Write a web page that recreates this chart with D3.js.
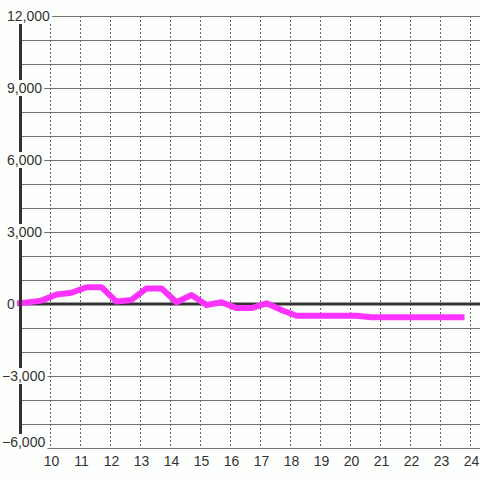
<!DOCTYPE html>
<html>
<head>
<meta charset="utf-8">
<script src="https://cdn.jsdelivr.net/npm/d3@7"></script>
<style>
  body { margin: 0; background: #fdfffd; }
  text { font-family: "Liberation Sans", Arial, sans-serif; font-size: 14px; fill: #333; }
</style>
</head>
<body>
<script>
// hour of day for each reading
var hours = [8.7, 9.2, 9.7, 10.2, 10.7, 11.2, 11.7, 12.2, 12.7, 13.2, 13.7, 14.2, 14.7, 15.2, 15.7,
             16.2, 16.7, 17.2, 17.7, 18.2, 18.7, 19.2, 19.7, 20.2, 20.7, 21.2, 21.7, 22.2, 22.7, 23.2, 23.7];
var values = [0, 60, 140, 400, 470, 700, 700, 100, 170, 650, 650, 70, 375, -40, 70,
              -170, -170, 30, -250, -490, -490, -490, -490, -490, -550, -550, -550, -550, -550, -550, -550];
var xTicks = [10, 11, 12, 13, 14, 15, 16, 17, 18, 19, 20, 21, 22, 23, 24];
var yTicks = [-6000, -3000, 0, 3000, 6000, 9000, 12000];

var width = 480, height = 480;
var svg = d3.select("body").append("svg")
    .attr("width", width)
    .attr("height", height);

var x = d3.scaleLinear().domain([9, 24]).range([20.5, 470.5]);
var y = d3.scaleLinear().domain([-6000, 12000]).range([448, 16]);

// horizontal grid, every 1000
svg.append("g").selectAll("line")
    .data(y.ticks(18))
    .enter().append("line")
    .attr("x1", 20).attr("x2", width)
    .attr("y1", function(d) { return Math.round(y(d)) + 0.5; })
    .attr("y2", function(d) { return Math.round(y(d)) + 0.5; })
    .attr("stroke", "#707070")
    .attr("stroke-width", 1.2);

// vertical dotted grid
svg.append("g").selectAll("line")
    .data(xTicks)
    .enter().append("line")
    .attr("x1", function(d) { return x(d); })
    .attr("x2", function(d) { return x(d); })
    .attr("y1", y(12000)).attr("y2", y(-6000))
    .attr("stroke", "#666")
    .attr("stroke-dasharray", "2,2");

// zero line
svg.append("line")
    .attr("x1", 20).attr("x2", width)
    .attr("y1", y(0)).attr("y2", y(0))
    .attr("stroke", "#333")
    .attr("stroke-width", 3);

// data line
var line = d3.line()
    .x(function(d, i) { return x(hours[i]); })
    .y(function(d) { return y(d); });

svg.append("path")
    .datum(values)
    .attr("d", line)
    .attr("fill", "none")
    .attr("stroke", "#ff33ff")
    .attr("stroke-width", 6)
    .attr("stroke-linejoin", "round")
    .attr("stroke-linecap", "square");

// left axis
svg.append("line")
    .attr("x1", 20.5).attr("x2", 20.5)
    .attr("y1", y(12000)).attr("y2", y(-6000))
    .attr("stroke", "#333")
    .attr("stroke-width", 3);

// y labels with white boxes
var fmt = d3.format(",");
var yl = svg.append("g").selectAll("g")
    .data(yTicks)
    .enter().append("g")
    .attr("transform", function(d) { return "translate(0," + Math.min(y(d), 442) + ")"; });

yl.append("rect")
    .attr("fill", "#fdfffd");

yl.append("text")
    .attr("x", function(d) { return d < 0 ? 2 : 7; })
    .attr("dy", "0.35em")
    .text(function(d) { return fmt(d); });

yl.each(function() {
  var g = d3.select(this);
  var bb = g.select("text").node().getBBox();
  g.select("rect")
    .attr("x", 0).attr("y", -8)
    .attr("width", bb.x + bb.width + 2)
    .attr("height", 16);
});

// x labels
svg.append("g").selectAll("text")
    .data(xTicks)
    .enter().append("text")
    .attr("x", function(d) { return x(d) + 1; })
    .attr("y", 466)
    .attr("text-anchor", "middle")
    .text(function(d) { return d; });
</script>
</body>
</html>
